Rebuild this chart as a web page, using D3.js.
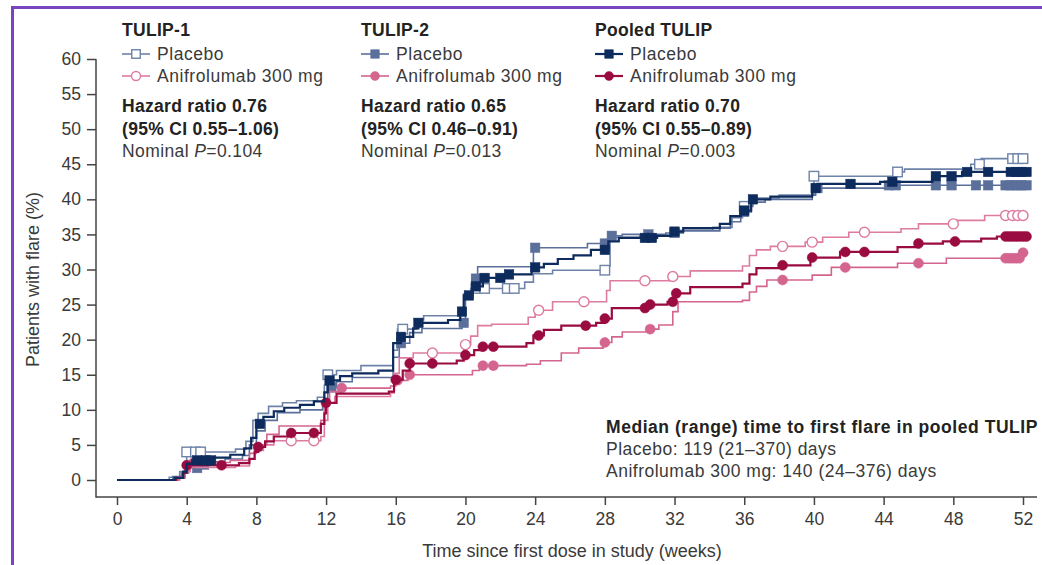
<!DOCTYPE html>
<html>
<head>
<meta charset="utf-8">
<script src="https://cdn.jsdelivr.net/npm/d3@7"></script>
<style>
  html, body { margin: 0; padding: 0; background: #fff; }
  svg { display: block; font-family: "Liberation Sans", Arial, sans-serif; }
</style>
</head>
<body>
<svg id="chart" width="1042" height="565"></svg>
<script>
// Kaplan–Meier cumulative flare curves: [week, % patients with flare]
const pooledPlacebo = [[0,0],[3.3,0.3],[3.8,1.2],[4.0,2.3],[4.3,2.8],[5.5,3.2],[6.5,3.6],[7.3,4.5],[7.7,6],[8.0,8],[8.4,9],[9.0,9.8],[9.6,10.3],[10.5,10.7],[11.3,11.2],[11.9,12.5],[12.1,14.2],[12.8,14.8],[13.5,15.2],[15.0,15.6],[15.85,19.5],[16.3,20.4],[17.0,21.6],[17.3,22.4],[19.0,22.8],[19.7,24],[19.9,26.3],[20.4,27.6],[21.0,28.8],[22.5,29.3],[23.8,30.3],[24.5,30.8],[25.3,31.5],[26.2,32.0],[27.2,32.8],[28.2,34.0],[28.8,34.5],[31.0,34.8],[31.8,35.4],[32.5,35.9],[34.6,36.5],[35.2,37.6],[35.8,38.4],[36.4,40.0],[37.5,40.4],[39.9,41.6],[40.2,42.2],[43.8,42.5],[46.8,43.3],[48.5,43.9],[52.3,43.9]];
const tulip1Placebo = [[0,0],[3.0,0.4],[3.6,1.2],[3.9,2.5],[4.0,4.0],[6.8,4.4],[7.4,5.5],[7.8,8.5],[8.1,9.5],[8.7,10.5],[9.5,11.0],[10.3,11.3],[11.5,11.8],[11.9,13.5],[12.1,15.0],[12.6,15.6],[14.0,16.3],[15.85,18.5],[16.1,21.5],[17.2,22.8],[17.6,23.4],[19.6,24.0],[19.9,26.5],[20.3,27.3],[23.4,28.2],[23.9,29.4],[25.0,29.9],[28.1,30.5],[28.3,34.6],[30.0,34.9],[32.0,35.6],[34.2,36.0],[35.3,37.4],[35.9,39.0],[36.5,40.2],[38.0,40.6],[40.0,43.3],[44.6,43.9],[45.2,44.3],[49.0,45.0],[49.6,45.8],[52.3,45.8]];
const tulip2Placebo = [[0,0],[3.2,0.5],[3.7,1.0],[4.1,1.7],[4.8,2.2],[5.4,2.6],[6.2,3.0],[7.2,3.5],[7.6,5.0],[8.0,7.0],[8.5,8.5],[9.2,9.6],[10.5,10.0],[11.8,11.0],[12.1,13.2],[12.6,14.0],[13.5,14.6],[15.85,17.5],[16.2,19.5],[16.8,21.0],[17.5,21.6],[19.8,22.4],[20.0,26.5],[20.4,28.7],[20.7,30.4],[23.9,33.1],[27.0,33.7],[28.2,34.8],[29.0,35.0],[31.5,35.2],[32.5,35.5],[34.6,35.9],[35.2,36.8],[35.8,38.2],[36.4,39.6],[37.2,40.0],[39.9,40.6],[40.1,41.6],[44.2,42.0],[52.3,42.0]];
const pooledAnif = [[0,0],[3.4,0.3],[3.8,1.0],[4.0,2.1],[6.5,2.1],[7.0,2.4],[7.6,3.0],[7.9,4.0],[8.1,4.7],[8.5,5.5],[9.0,6.2],[9.8,6.7],[11.7,8.0],[11.9,9.5],[12.0,11.0],[12.6,12.3],[15.6,12.6],[15.9,14.3],[16.4,15.6],[16.8,16.6],[19.5,17.0],[19.9,17.8],[20.5,18.5],[21.0,19.0],[23.5,19.5],[23.9,20.6],[24.5,21.4],[25.5,22.0],[27.5,22.4],[28.0,23.0],[28.4,24.5],[30.6,25.0],[31.6,25.4],[32.0,26.6],[32.9,27.5],[35.9,28.0],[36.3,29.3],[36.7,30.2],[38.0,30.6],[39.8,31.7],[41.5,32.5],[44.8,33.2],[46.0,33.7],[47.4,34.0],[49.6,34.4],[50.5,34.7],[52.3,34.9]];
const tulip1Anif = [[0,0],[3.5,0.4],[3.9,1.2],[4.2,1.8],[6.8,2.0],[7.6,3.0],[7.9,4.2],[8.4,5.0],[9.0,5.6],[11.7,6.2],[11.9,8.5],[12.1,11.0],[12.5,11.9],[15.7,12.4],[15.9,15.2],[16.2,17.4],[17.0,18.1],[19.9,19.3],[20.3,20.5],[20.7,22.0],[21.5,22.2],[23.6,23.2],[24.0,24.2],[25.0,25.4],[28.1,27.0],[28.3,28.4],[31.9,29.0],[32.9,29.8],[35.9,30.5],[36.3,32.0],[36.7,32.8],[37.5,33.3],[39.5,33.9],[40.5,34.6],[42.0,35.3],[45.0,35.8],[46.0,36.5],[48.2,37.0],[49.8,37.7],[52.3,37.7]];
const tulip2Anif = [[0,0],[3.6,0.3],[3.9,1.5],[4.2,2.5],[6.5,2.8],[7.6,3.8],[8.0,5.0],[8.6,6.5],[9.3,7.7],[11.7,8.5],[11.9,11.5],[12.2,12.6],[12.8,13.1],[15.7,13.4],[16.0,14.2],[16.7,15.0],[20.4,15.6],[20.8,16.3],[23.5,16.5],[24.3,17.0],[25.5,18.1],[26.5,18.8],[27.9,19.6],[28.4,20.4],[29.0,21.1],[30.6,21.5],[31.1,22.1],[31.9,24.0],[32.2,25.4],[35.9,25.6],[36.3,26.8],[36.7,27.6],[37.3,28.5],[39.9,29.2],[41.0,30.3],[44.8,30.9],[47.6,31.6],[52.0,32.4],[52.3,32.4]];

// Censoring times (weeks)
const pooledPlaceboCens = [4.6,5.1,5.4,8.2,12.2,16.3,17.3,19.8,20.2,20.6,21.1,22.0,22.5,24.0,28.0,30.3,30.7,32.0,36.0,36.5,40.1,42.1,44.5,47.0,47.9,48.8,50.0,51.3,51.6,51.9,52.2];
const tulip1PlaceboCens = [4.0,4.5,4.8,12.1,16.4,20.6,21.1,22.4,22.8,28.0,36.0,40.0,44.8,49.5,51.4,51.7,52.0];
const tulip2PlaceboCens = [4.6,5.0,12.3,16.3,19.9,20.6,24.0,28.0,28.4,30.5,32.0,36.0,40.2,44.3,44.7,47.0,47.9,49.3,50.0,51.0,51.3,51.6,51.9,52.2];
const pooledAnifCens = [4.0,6.0,8.1,10.0,11.3,12.0,16.0,16.8,18.1,20.0,21.0,21.6,24.2,26.9,28.0,30.3,30.6,31.9,32.1,38.2,39.9,41.8,42.9,46.0,48.1,51.0,51.2,51.4,51.6,51.8,52.0,52.2];
const tulip1AnifCens = [10.0,11.3,18.1,20.0,24.2,26.8,30.3,31.9,38.2,39.9,42.9,48.0,51.0,51.4,51.7,52.0];
const tulip2AnifCens = [4.4,12.9,16.1,16.8,21.0,21.6,28.0,30.6,38.2,41.8,46.0,51.0,51.2,51.4,51.6,51.8,52.0];

const xTicks = [0,4,8,12,16,20,24,28,32,36,40,44,48,52];
const yTicks = [0,5,10,15,20,25,30,35,40,45,50,55,60];

const studies = [
  { title: "TULIP-1", hr: "Hazard ratio 0.76", ci: "(95% CI 0.55–1.06)", p: "0.104" },
  { title: "TULIP-2", hr: "Hazard ratio 0.65", ci: "(95% CI 0.46–0.91)", p: "0.013" },
  { title: "Pooled TULIP", hr: "Hazard ratio 0.70", ci: "(95% CI 0.55–0.89)", p: "0.003" }
];
const armNames = ["Placebo", "Anifrolumab 300 mg"];
const medianLines = [
  "Median (range) time to first flare in pooled TULIP",
  "Placebo: 119 (21–370) days",
  "Anifrolumab 300 mg: 140 (24–376) days"
];

const series = [
  { study: 0, arm: 0, data: tulip1Placebo, cens: tulip1PlaceboCens, color: "#6e83a8", shape: "square", open: true,  width: 1.6 },
  { study: 1, arm: 0, data: tulip2Placebo, cens: tulip2PlaceboCens, color: "#5b6f9b", shape: "square", open: false, width: 1.6 },
  { study: 0, arm: 1, data: tulip1Anif,    cens: tulip1AnifCens,    color: "#de7ba0", shape: "circle", open: true,  width: 1.6 },
  { study: 1, arm: 1, data: tulip2Anif,    cens: tulip2AnifCens,    color: "#d3658f", shape: "circle", open: false, width: 1.6 },
  { study: 2, arm: 1, data: pooledAnif,    cens: pooledAnifCens,    color: "#9a0b40", shape: "circle", open: false, width: 2.2 },
  { study: 2, arm: 0, data: pooledPlacebo, cens: pooledPlaceboCens, color: "#0d2b5c", shape: "square", open: false, width: 2.2 }
];

const svg = d3.select("#chart");
const textColor = "#3a3a3a";
const axisColor = "#444";

// purple frame
svg.append("line").attr("x1", 12).attr("x2", 1042).attr("y1", 7.5).attr("y2", 7.5)
  .attr("stroke", "#7a43c0").attr("stroke-width", 3);
svg.append("line").attr("x1", 12.5).attr("x2", 12.5).attr("y1", 6).attr("y2", 565)
  .attr("stroke", "#7a43c0").attr("stroke-width", 3);

const x = d3.scaleLinear().domain([0, 52]).range([117, 1023]);
const y = d3.scaleLinear().domain([0, 60]).range([480, 59]);
const axisY = 497, axisX = 96;

// axes
const gx = svg.append("g").attr("transform", `translate(0,${axisY})`)
  .call(d3.axisBottom(x).tickValues(xTicks).tickSize(8).tickSizeOuter(0).tickPadding(8));
gx.select(".domain").remove();
gx.selectAll("line").attr("stroke", axisColor).attr("stroke-width", 1.5);
gx.selectAll("text").attr("fill", textColor).attr("font-size", 17.5)
  .attr("font-family", "'Liberation Sans Narrow', 'Liberation Sans', Arial, sans-serif");

const gy = svg.append("g").attr("transform", `translate(${axisX},0)`)
  .call(d3.axisLeft(y).tickValues(yTicks).tickSize(9).tickSizeOuter(0).tickPadding(6));
gy.select(".domain").remove();
gy.selectAll("line").attr("stroke", axisColor).attr("stroke-width", 1.5);
gy.selectAll("text").attr("fill", textColor).attr("font-size", 17.5);

svg.append("line").attr("x1", axisX).attr("x2", axisX).attr("y1", y(60)).attr("y2", axisY + 0.75)
  .attr("stroke", axisColor).attr("stroke-width", 1.5);
svg.append("line").attr("x1", axisX).attr("x2", 1037).attr("y1", axisY).attr("y2", axisY)
  .attr("stroke", axisColor).attr("stroke-width", 1.5);

// axis titles
svg.append("text").attr("x", (x(0) + x(52)) / 2 + 2).attr("y", 557).attr("text-anchor", "middle")
  .attr("font-size", 18).attr("fill", textColor)
  .text("Time since first dose in study (weeks)");
svg.append("text").attr("transform", `translate(39,${(y(0) + y(60)) / 2 + 10}) rotate(-90)`)
  .attr("text-anchor", "middle").attr("font-size", 18).attr("fill", textColor)
  .text("Patients with flare (%)");

// curves
const stepLine = d3.line().x(d => x(d[0])).y(d => y(d[1])).curve(d3.curveStepAfter);
const bis = d3.bisector(d => d[0]).right;
const valueAt = (data, t) => data[Math.max(0, bis(data, t) - 1)][1];

function drawMarker(g, s, cx, cy, size) {
  if (s.shape === "square") {
    g.append("rect").attr("x", cx - size / 2).attr("y", cy - size / 2)
      .attr("width", size).attr("height", size)
      .attr("fill", s.open ? "#fff" : s.color)
      .attr("stroke", s.color).attr("stroke-width", s.open ? 1.4 : 0.5);
  } else {
    g.append("circle").attr("cx", cx).attr("cy", cy).attr("r", size / 2)
      .attr("fill", s.open ? "#fff" : s.color)
      .attr("stroke", s.color).attr("stroke-width", s.open ? 1.4 : 0.5);
  }
}

const plot = svg.append("g");
series.forEach(s => {
  const g = plot.append("g");
  g.append("path").datum(s.data).attr("d", stepLine)
    .attr("fill", "none").attr("stroke", s.color).attr("stroke-width", s.width);
  s.cens.forEach(t => drawMarker(g, s, x(t), y(valueAt(s.data, t)), s.shape === "square" ? 9.5 : 10));
});

// legends
const legendX = [122, 361, 595];
studies.forEach((st, i) => {
  const lx = legendX[i];
  const g = svg.append("g").attr("fill", "#222");
  g.append("text").attr("x", lx).attr("y", 36).attr("font-size", 17.5).attr("font-weight", "bold")
    .attr("letter-spacing", 0.3).text(st.title);
  [0, 1].forEach(arm => {
    const s = series.find(d => d.study === i && d.arm === arm);
    const ly = arm === 0 ? 54 : 76;
    g.append("line").attr("x1", lx).attr("x2", lx + 28).attr("y1", ly).attr("y2", ly)
      .attr("stroke", s.color).attr("stroke-width", s.width);
    drawMarker(g, s, lx + 14, ly, s.shape === "square" ? 8.5 : 9);
    g.append("text").attr("x", lx + 35).attr("y", ly + 6).attr("font-size", 17.5)
      .attr("letter-spacing", 0.55).attr("fill", textColor).text(armNames[arm]);
  });
  g.append("text").attr("x", lx).attr("y", 112).attr("font-size", 17.5).attr("font-weight", "bold")
    .attr("letter-spacing", 0.3).text(st.hr);
  g.append("text").attr("x", lx).attr("y", 135).attr("font-size", 17.5).attr("font-weight", "bold")
    .attr("letter-spacing", 0.3).text(st.ci);
  const t = g.append("text").attr("x", lx).attr("y", 157).attr("font-size", 17.5)
    .attr("letter-spacing", 0.4).attr("fill", textColor);
  t.append("tspan").text("Nominal ");
  t.append("tspan").attr("font-style", "italic").text("P");
  t.append("tspan").text("=" + st.p);
});

// median time box
medianLines.forEach((line, i) => {
  svg.append("text").attr("x", 606).attr("y", [433, 455, 477][i])
    .attr("font-size", 17.5).attr("font-weight", i === 0 ? "bold" : "normal")
    .attr("letter-spacing", i === 0 ? 0.55 : 0.5)
    .attr("fill", i === 0 ? "#222" : textColor).text(line);
});
</script>
</body>
</html>
